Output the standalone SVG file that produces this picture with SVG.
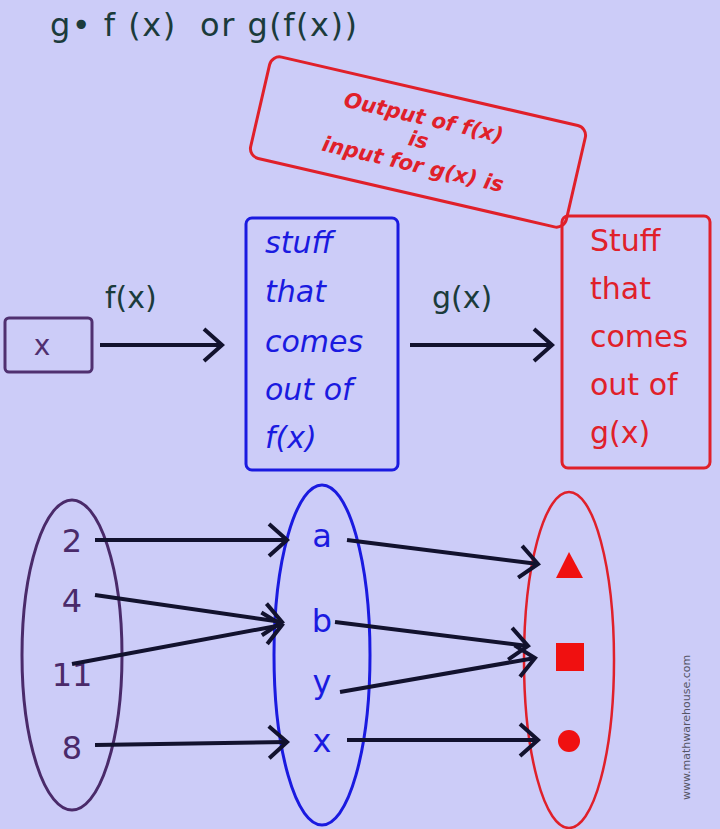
<svg xmlns="http://www.w3.org/2000/svg" width="720" height="829" viewBox="0 0 720 829">
<style>
.t{font-family:"DejaVu Sans","Liberation Sans",sans-serif}
.c{stroke:#12122e;stroke-width:4;fill:none;marker-end:url(#ah)}
.big{font-size:30px}
</style>
<defs>
<marker id="ah" markerUnits="userSpaceOnUse" markerWidth="30" markerHeight="40" refX="22" refY="18" orient="auto">
<path d="M4,2 L22,18 L4,34" fill="none" stroke="#12122e" stroke-width="4"/>
</marker>
</defs>
<rect width="720" height="829" fill="#ccccf8"/>
<text class="t" x="50" y="36" font-size="32" letter-spacing="1.5" fill="#1b3b3b" xml:space="preserve">g• f (x)  or g(f(x))</text>
<g id="note" transform="translate(418,142) rotate(13)">
<rect x="-162" y="-52" width="324" height="104" rx="10" fill="none" stroke="#e0202a" stroke-width="3"/>
<g class="t" font-size="21" font-weight="bold" font-style="italic" fill="#e0202a" text-anchor="middle">
<text x="0" y="-18">Output of f(x)</text><text x="0" y="5">is</text><text x="0" y="30">input for g(x) is</text></g>
</g>
<g id="xbox"><rect x="5" y="318" width="87" height="54" rx="4" fill="none" stroke="#503070" stroke-width="3"/>
<text class="t" x="42" y="355" font-size="28" fill="#503070" text-anchor="middle">x</text></g>
<g id="fbox"><rect x="246" y="218" width="152" height="252" rx="6" fill="none" stroke="#1a1ae0" stroke-width="3"/>
<g class="t big" fill="#1a1ae0" font-style="italic"><text x="265" y="253">stuff</text><text x="265" y="302">that</text><text x="265" y="352">comes</text><text x="265" y="400">out of</text><text x="265" y="448">f(x)</text></g></g>
<g id="gbox"><rect x="562" y="216" width="148" height="252" rx="6" fill="none" stroke="#e0202a" stroke-width="3"/>
<g class="t big" fill="#e0202a"><text x="590" y="251">Stuff</text><text x="590" y="299">that</text><text x="590" y="347">comes</text><text x="590" y="395">out of</text><text x="590" y="443">g(x)</text></g></g>
<g class="t big" fill="#1b3b3b"><text x="105" y="308">f(x)</text><text x="432" y="308">g(x)</text></g>
<g id="setA"><ellipse cx="72" cy="655" rx="50" ry="155" fill="none" stroke="#4a2a6a" stroke-width="3"/>
<g class="t" font-size="32" fill="#4a2a6a" text-anchor="middle"><text x="72" y="552">2</text><text x="72" y="612">4</text><text x="72" y="686">11</text><text x="72" y="759">8</text></g></g>
<g id="setB"><ellipse cx="322" cy="655" rx="48" ry="170" fill="none" stroke="#1a1ae0" stroke-width="3"/>
<g class="t" font-size="32" fill="#1a1ae0" text-anchor="middle"><text x="322" y="547">a</text><text x="322" y="632">b</text><text x="322" y="693">y</text><text x="322" y="752">x</text></g></g>
<g id="setC"><ellipse cx="569" cy="660" rx="45" ry="168" fill="none" stroke="#e0202a" stroke-width="2.5"/>
<polygon points="569,552 556,578 583,578" fill="#f01010"/>
<rect x="556" y="643" width="28" height="28" fill="#f01010"/>
<circle cx="569" cy="741" r="11" fill="#f01010"/></g>
<g id="connectors">
<line class="c" x1="100" y1="345" x2="222" y2="345"/>
<line class="c" x1="410" y1="345" x2="552" y2="345"/>
<line class="c" x1="95" y1="540" x2="287" y2="540"/>
<line class="c" x1="95" y1="595" x2="282" y2="622"/>
<line class="c" x1="72" y1="664" x2="282" y2="625"/>
<line class="c" x1="95" y1="745" x2="287" y2="742"/>
<line class="c" x1="347" y1="540" x2="538" y2="564"/>
<line class="c" x1="335" y1="622" x2="528" y2="646"/>
<line class="c" x1="340" y1="692" x2="535" y2="658"/>
<line class="c" x1="347" y1="740" x2="538" y2="740"/>
</g>
<text class="t" transform="translate(690,800) rotate(-90)" font-size="11" fill="#555566">www.mathwarehouse.com</text>
</svg>
